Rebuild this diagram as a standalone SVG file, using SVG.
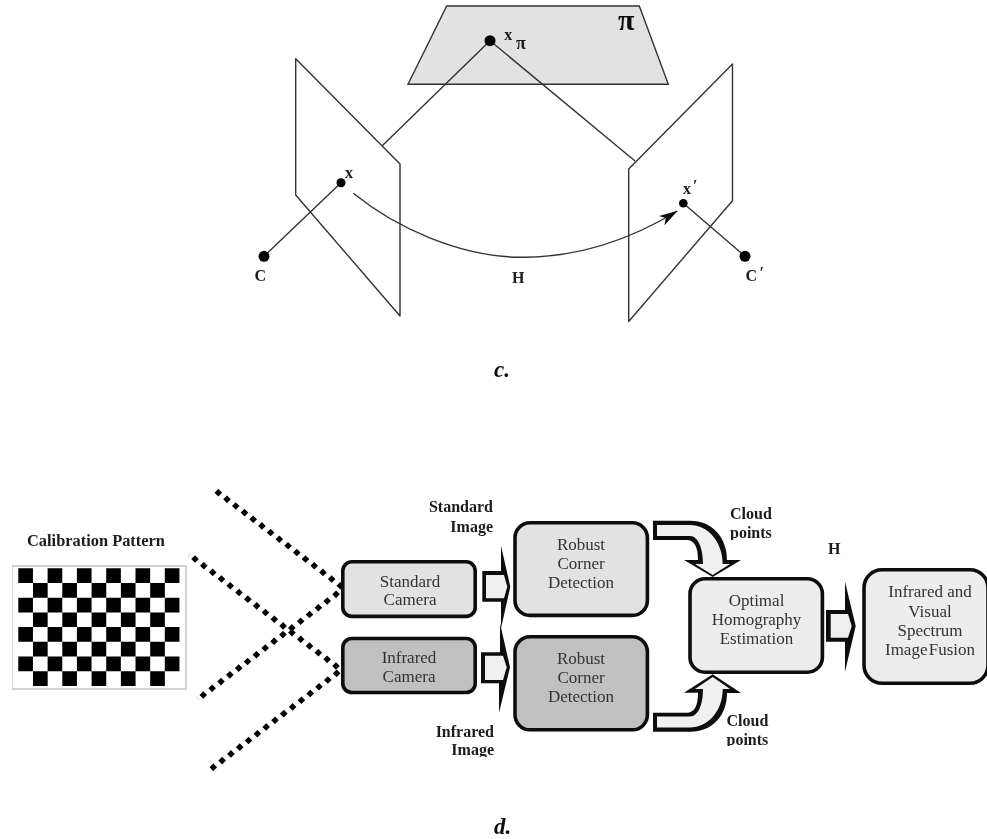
<svg xmlns="http://www.w3.org/2000/svg" width="987" height="839" viewBox="0 0 987 839">
<style>
text{font-family:"Liberation Serif","Times New Roman",serif}
.thin{fill:none;stroke:#333;stroke-width:1.4;stroke-linejoin:round}
.dot{fill:#000}
.lb{font-weight:700;font-size:16px;fill:#1a1a1a}
.bl{font-weight:700;font-size:16px;fill:#1c1c1c}
.cap{font-weight:700;font-style:italic;font-size:23px;fill:#111}
.bt{font-size:17px;fill:#333;text-anchor:middle}
.box{stroke:#0c0c0c;stroke-width:3.6}
.lt{fill:#e2e2e2}.dk{fill:#c0c0c0}.fu{fill:#ededed}
.ao{fill:#0a0a0a}.ai{fill:#f0f0f0}
.ray{fill:none;stroke:none;marker-start:url(#dia);marker-mid:url(#dia);marker-end:url(#dia)}
</style>
<defs>
<filter id="soft" x="0" y="0" width="100%" height="100%"><feGaussianBlur stdDeviation="0.45"/></filter>
<marker id="ah" markerUnits="userSpaceOnUse" viewBox="0 0 19 11" refX="18.5" refY="5.5" markerWidth="19" markerHeight="11" orient="auto"><path d="M0 0L19 5.5L0 11L5 5.5Z" fill="#111"/></marker>
<marker id="dia" markerUnits="userSpaceOnUse" viewBox="-4 -4 8 8" refX="0" refY="0" markerWidth="8" markerHeight="8"><path d="M0-3.8L3.8 0L0 3.8L-3.8 0Z" fill="#000"/></marker>
<clipPath id="c1"><rect x="420" y="740" width="90" height="17"/></clipPath>
<clipPath id="c2"><rect x="720" y="730" width="80" height="16"/></clipPath>
<clipPath id="c3"><rect x="720" y="522" width="80" height="18"/></clipPath>
<clipPath id="c4"><rect x="360" y="590" width="100" height="15.5"/></clipPath>
</defs>
<rect width="987" height="839" fill="#fff"/>
<g filter="url(#soft)">
<g id="plane-pi"><polygon points="408,84.3 446.7,6 639.3,6 668.3,84.3" fill="#e2e2e2" stroke="#333" stroke-width="1.4"/><text x="618" y="30" font-size="30" font-weight="700" fill="#111">π</text></g>
<g id="image-plane-left"><polygon class="thin" points="295.7,58.7 400,164 400,316 295.7,195"/></g>
<g id="image-plane-right"><polygon class="thin" points="732.5,64 628.7,169 628.7,321.5 732.5,200.7"/></g>
<g id="connectors-top">
<path class="thin" d="M490 40.7L382 146M490 40.7L635 161M341 182.7L264 256.3M683.3 203.3L745 256.3"/>
<path class="thin" d="M353.3 193.3C395 227 460 258 524.5 257.3C580 256.7 630 240 677.3 211" marker-end="url(#ah)"/>
</g>
<g id="point-xpi"><circle class="dot" cx="490" cy="40.7" r="5.5"/><text class="lb" x="504.3" y="40">x</text><text x="516" y="49" font-size="18" font-weight="700" fill="#1a1a1a">π</text></g>
<g id="point-x"><circle class="dot" cx="341" cy="182.7" r="4.5"/><text class="lb" x="345" y="178.3">x</text></g>
<g id="point-xp"><circle class="dot" cx="683.3" cy="203.3" r="4.3"/><text class="lb" x="683" y="194.3">x</text><text class="lb" x="693" y="191">′</text></g>
<g id="point-C"><circle class="dot" cx="264" cy="256.3" r="5.5"/><text class="lb" x="254.5" y="281">C</text></g>
<g id="point-Cp"><circle class="dot" cx="745" cy="256.3" r="5.5"/><text class="lb" x="745.5" y="281">C</text><text class="lb" x="759.5" y="278">′</text></g>
<text class="lb" x="512" y="283">H</text>
<text class="cap" x="494" y="377">c.</text>

<g id="calibration-pattern">
<text class="bl" x="27" y="545.5" style="font-size:16.4px">Calibration Pattern</text>
<rect x="12" y="566" width="174" height="123" fill="#fff" stroke="#a8a8a8" stroke-width="1"/>
<path fill="#000" d="M18.3 568.3h14.65v14.7h-14.65zM47.6 568.3h14.65v14.7h-14.65zM76.9 568.3h14.65v14.7h-14.65zM106.2 568.3h14.65v14.7h-14.65zM135.5 568.3h14.65v14.7h-14.65zM164.8 568.3h14.65v14.7h-14.65z
M33 583h14.65v14.7h-14.65zM62.3 583h14.65v14.7h-14.65zM91.6 583h14.65v14.7h-14.65zM120.9 583h14.65v14.7h-14.65zM150.2 583h14.65v14.7h-14.65z
M18.3 597.7h14.65v14.7h-14.65zM47.6 597.7h14.65v14.7h-14.65zM76.9 597.7h14.65v14.7h-14.65zM106.2 597.7h14.65v14.7h-14.65zM135.5 597.7h14.65v14.7h-14.65zM164.8 597.7h14.65v14.7h-14.65z
M33 612.4h14.65v14.7h-14.65zM62.3 612.4h14.65v14.7h-14.65zM91.6 612.4h14.65v14.7h-14.65zM120.9 612.4h14.65v14.7h-14.65zM150.2 612.4h14.65v14.7h-14.65z
M18.3 627.1h14.65v14.7h-14.65zM47.6 627.1h14.65v14.7h-14.65zM76.9 627.1h14.65v14.7h-14.65zM106.2 627.1h14.65v14.7h-14.65zM135.5 627.1h14.65v14.7h-14.65zM164.8 627.1h14.65v14.7h-14.65z
M33 641.8h14.65v14.7h-14.65zM62.3 641.8h14.65v14.7h-14.65zM91.6 641.8h14.65v14.7h-14.65zM120.9 641.8h14.65v14.7h-14.65zM150.2 641.8h14.65v14.7h-14.65z
M18.3 656.5h14.65v14.7h-14.65zM47.6 656.5h14.65v14.7h-14.65zM76.9 656.5h14.65v14.7h-14.65zM106.2 656.5h14.65v14.7h-14.65zM135.5 656.5h14.65v14.7h-14.65zM164.8 656.5h14.65v14.7h-14.65z
M33 671.2h14.65v14.7h-14.65zM62.3 671.2h14.65v14.7h-14.65zM91.6 671.2h14.65v14.7h-14.65zM120.9 671.2h14.65v14.7h-14.65zM150.2 671.2h14.65v14.7h-14.65z"/>
</g>

<g id="standard-camera"><rect class="box lt" x="342.8" y="561.8" width="132.4" height="54.6" rx="9"/><text class="bt" x="410" y="586.5">Standard</text><text class="bt" x="410" y="605" clip-path="url(#c4)">Camera</text></g>
<g id="infrared-camera"><rect class="box dk" x="342.8" y="638.5" width="132.4" height="54" rx="9"/><text class="bt" x="409" y="663">Infrared</text><text class="bt" x="409" y="681.5">Camera</text></g>
<g id="robust-top"><rect class="box lt" x="515" y="522.8" width="132.4" height="92.6" rx="15"/><text class="bt" x="581" y="550">Robust</text><text class="bt" x="581" y="569">Corner</text><text class="bt" x="581" y="587.5">Detection</text></g>
<g id="robust-bottom"><rect class="box dk" x="515" y="636.8" width="132.4" height="93" rx="15"/><text class="bt" x="581" y="664">Robust</text><text class="bt" x="581" y="682.5">Corner</text><text class="bt" x="581" y="701.5">Detection</text></g>
<g id="homography"><rect class="box fu" x="690" y="578.8" width="132.4" height="93.4" rx="15"/><text class="bt" x="756.5" y="606">Optimal</text><text class="bt" x="756.5" y="625">Homography</text><text class="bt" x="756.5" y="644">Estimation</text></g>
<g id="fusion"><rect class="box fu" x="864" y="569.8" width="124" height="113.4" rx="18"/><text class="bt" x="930" y="597.3">Infrared and</text><text class="bt" x="930" y="616.5">Visual</text><text class="bt" x="930" y="635.5">Spectrum</text><text class="bt" x="930" y="655" style="word-spacing:-3px">Image Fusion</text></g>

<g id="connectors-rays">
<path class="ray" d="M218.3 492.7l8.72 6.64 8.72 6.64 8.72 6.64 8.72 6.64 8.72 6.64 8.72 6.64 8.72 6.64 8.72 6.64 8.72 6.64 8.72 6.64 8.72 6.64 8.72 6.64 8.72 6.64"/>
<path class="ray" d="M195 559l8.81 6.69 8.81 6.69 8.81 6.69 8.81 6.69 8.81 6.69 8.81 6.69 8.81 6.69 8.81 6.69 8.81 6.69 8.81 6.69 8.81 6.69 8.81 6.69 8.81 6.69 8.81 6.69 8.81 6.69 8.81 6.69"/>
<path class="ray" d="M203.3 695l8.85 -6.71 8.85 -6.71 8.85 -6.71 8.85 -6.71 8.85 -6.71 8.85 -6.71 8.85 -6.71 8.85 -6.71 8.85 -6.71 8.85 -6.71 8.85 -6.71 8.85 -6.71 8.85 -6.71 8.85 -6.71 8.85 -6.71 4.2 -8.6"/>
<path class="ray" d="M213.3 767.3l8.81 -6.71 8.81 -6.71 8.81 -6.71 8.81 -6.71 8.81 -6.71 8.81 -6.71 8.81 -6.71 8.81 -6.71 8.81 -6.71 8.81 -6.71 8.81 -6.71 8.81 -6.71 8.81 -6.71 8.81 -6.71"/>
<path d="M188 557.3L190.7 552.7M196.7 696.7L199.3 700" stroke="#ccc" stroke-width="1" fill="none"/>
</g>

<g id="connectors-block">
<polygon class="ao" points="482.3,571 501,571 501,545.7 510.3,586.7 501,628.3 501,601.7 482.3,601.7"/>
<polygon class="ai" points="486,575 504,575 507.3,586.7 504,598.3 486,598.3"/>
<polygon class="ao" points="481,652.3 500,652.3 500,623.3 510,667.3 499,712.7 499,683.3 481,683.3"/>
<polygon class="ai" points="485,655.7 503,655.7 506.7,667.3 503,680 485,680"/>
<polygon class="ao" points="826,610 845,610 845,581.7 855.7,626 845,671.7 845,641.7 826,641.7"/>
<polygon class="ai" points="830.7,614 848,614 851.7,626 848,637.7 830.7,637.7"/>
<path class="ao" d="M653 520.7H690C713 520.7 727 538 727 560H741L712.7 577L684 560H698C698 548 695 540 686.7 540H653Z"/>
<path class="ai" d="M657 525H690C708 525 722.7 542 722.7 564H730L712.7 575L695 564H703C703 548 698 536 690 536H657Z"/>
<path class="ao" d="M653 731.7H690C713 731.7 727 715 727 693H741L712.7 674.3L684 692.7H698C698 705 695 712.7 686.7 712.7H653Z"/>
<path class="ai" d="M657 727.5H690C708 727.5 722.7 711 722.7 689H730L712.7 677L695 689H703C703 705 698 716.5 690 716.5H657Z"/>
</g>

<text class="bl" x="493" y="512" text-anchor="end">Standard</text>
<text class="bl" x="493" y="531.5" text-anchor="end">Image</text>
<text class="bl" x="494" y="736.5" text-anchor="end">Infrared</text>
<text class="bl" x="494" y="755" text-anchor="end" clip-path="url(#c1)">Image</text>
<text class="bl" x="730" y="519">Cloud</text>
<text class="bl" x="730" y="537.5" clip-path="url(#c3)">points</text>
<text class="bl" x="726.5" y="726">Cloud</text>
<text class="bl" x="726.5" y="745" clip-path="url(#c2)">points</text>
<text class="bl" x="828" y="554">H</text>
<text class="cap" x="494" y="833.5">d.</text>
</g>
</svg>
